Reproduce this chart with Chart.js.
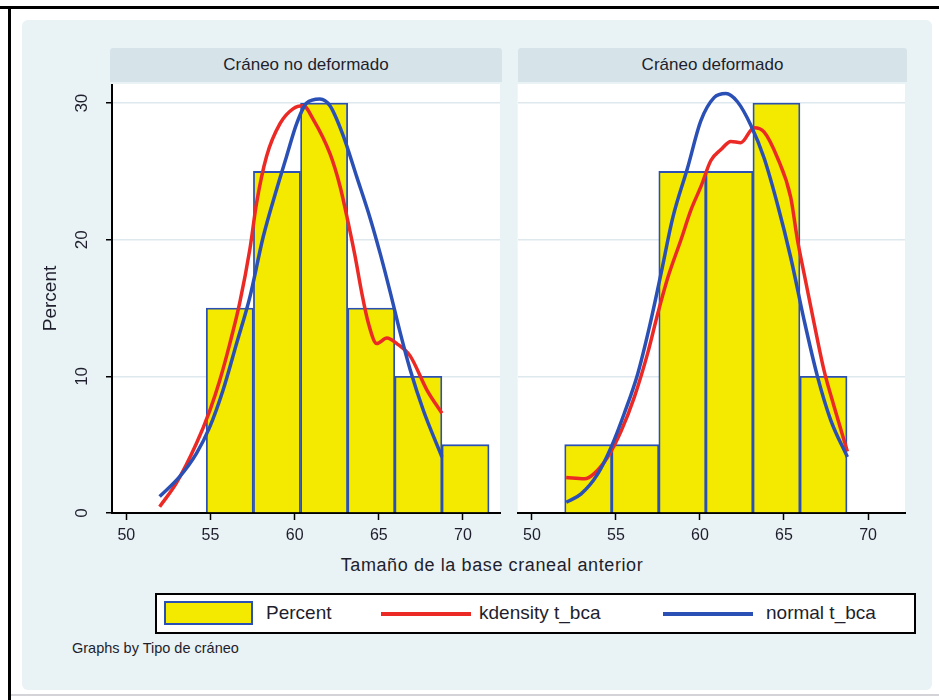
<!DOCTYPE html>
<html>
<head>
<meta charset="utf-8">
<script src="https://cdn.jsdelivr.net/npm/chart.js@4.4.0/dist/chart.umd.min.js"></script>
<style>
  body { margin: 0; background: #fff; font-family: "Liberation Sans", Arial, sans-serif; color: #1e1e2c; }
  #page { position: relative; width: 939px; height: 700px; overflow: hidden; }
  .abs { position: absolute; }
  #frameTop { left: 0; top: 6px; width: 939px; height: 3px; background: #000; }
  #frameLeft { left: 8px; top: 6px; width: 3px; height: 694px; background: #000; }
  #frameBottom { left: 11px; top: 694px; width: 928px; height: 2px; background: #d4d4d8; }
  #bg { left: 22px; top: 20px; width: 910px; height: 670px; background: #e9f2f5; border-radius: 6px; }
  .strip { top: 48px; height: 34px; background: #d6e4ea; border-radius: 3px 3px 0 0;
           font-size: 17px; line-height: 34px; text-align: center; }
  canvas { position: absolute; }
  #xTitle { left: 200px; width: 584px; top: 555px; text-align: center; font-size: 18px; letter-spacing: 0.6px; }
  #legend { left: 155px; top: 593px; width: 757px; height: 37px; background: #fff; border: 2px solid #000; }
  .sw { position: absolute; }
  .lt { position: absolute; top: 7px; font-size: 19px; }
  #note { left: 72px; top: 640px; font-size: 14.5px; }
</style>
</head>
<body>
<div id="page">
  <div id="bg" class="abs"></div>
  <div id="frameTop" class="abs"></div>
  <div id="frameLeft" class="abs"></div>
  <div id="frameBottom" class="abs"></div>

  <div class="abs strip" style="left:110px;width:392px;">Cráneo no deformado</div>
  <div class="abs strip" style="left:518px;width:389px;">Cráneo deformado</div>

  <canvas id="panel1" width="467" height="470" style="left:35px;top:84px;"></canvas>
  <canvas id="panel2" width="390" height="470" style="left:517px;top:84px;"></canvas>

  <div id="xTitle" class="abs">Tamaño de la base craneal anterior</div>

  <div id="legend" class="abs">
    <div class="sw" style="left:7px;top:6px;width:85px;height:20px;background:#f3ea00;border:2px solid #2a50b6;"></div>
    <div class="lt" style="left:109px;">Percent</div>
    <div class="sw" style="left:224px;top:17px;width:90px;height:4px;background:#ec2a25;"></div>
    <div class="lt" style="left:322px;">kdensity t_bca</div>
    <div class="sw" style="left:506px;top:17px;width:90px;height:4px;background:#2a50b6;"></div>
    <div class="lt" style="left:609px;">normal t_bca</div>
  </div>

  <div id="note" class="abs">Graphs by Tipo de cráneo</div>
</div>

<script>
// ======================= DATA =======================

// axis ticks
const xTicks = [50, 55, 60, 65, 70];
const yTicks = [0, 10, 20, 30];

// histogram bins (mid points, width 2.8) and percent per bin
const binMids1 = [56.15, 58.95, 61.75, 64.55, 67.35, 70.15];
const percent1 = [15, 25, 30, 15, 10, 5];
const binMids2 = [53.35, 56.15, 58.95, 61.75, 64.55, 67.35];
const percent2 = [5, 5, 25, 25, 30, 10];

// kdensity curve, panel 1
const kdX1 = [51.98, 52.98, 54.17, 54.96, 55.55, 56.15, 56.74, 57.34, 57.74, 58.33, 59.13, 59.92,
              60.51, 61.11, 62.1, 62.7, 63.19, 63.59, 63.99, 64.38, 64.88, 65.48, 66.07, 66.86,
              67.86, 68.75];
const kdY1 = [0.46, 2.2, 5.1, 7.5, 9.7, 12.4, 15.4, 19.3, 22.7, 26.1, 28.5, 29.6,
              29.8, 28.8, 26.3, 23.9, 21.2, 18.8, 16.1, 13.9, 12.4, 12.8, 12.4, 11.5,
              9.0, 7.3];

// normal curve, panel 1
const nmX1 = [51.98, 53.17, 54.17, 54.96, 55.75, 56.55, 57.34, 58.13, 58.93, 59.52, 60.12, 60.71,
              61.5, 62.1, 62.89, 63.69, 64.48, 65.08, 65.67, 66.27, 66.86, 67.65, 68.75];
const nmY1 = [1.2, 2.66, 4.37, 6.3, 9.0, 12.4, 15.8, 20.2, 23.7, 26.1, 28.5, 30.0,
              30.3, 29.8, 27.6, 24.6, 21.6, 19.0, 16.2, 13.2, 10.5, 7.5, 4.1];

// kdensity curve, panel 2
const kdX2 = [52.04, 53.13, 53.72, 54.51, 55.31, 56.1, 56.89, 57.49, 58.08, 58.87, 59.47, 60.06,
              60.65, 61.25, 61.84, 62.43, 63.22, 63.81, 64.61, 65.4, 65.8, 66.2, 66.79, 67.39,
              67.98, 68.77];
const kdY2 = [2.6, 2.5, 2.9, 4.1, 6.0, 8.5, 11.7, 14.6, 17.2, 20.0, 22.2, 23.9,
              25.8, 26.6, 27.2, 27.1, 28.2, 27.9, 26.0, 23.1, 20.0, 17.5, 13.9, 10.4,
              7.8, 4.5];

// normal curve, panel 2
const nmX2 = [52.04, 52.93, 53.92, 54.71, 55.5, 56.3, 56.99, 57.68, 58.38, 59.26, 60.05, 60.84,
              61.54, 62.23, 63.02, 63.81, 64.61, 65.4, 66.2, 66.99, 67.78, 68.77];
const nmY2 = [0.78, 1.4, 2.86, 4.8, 7.3, 10.2, 13.6, 17.5, 21.6, 25.25, 28.7, 30.4,
              30.7, 30.1, 28.4, 26.0, 22.6, 18.7, 14.1, 10.0, 6.8, 4.1];

// ======================= HELPERS =======================

const toPoints = (xs, ys) => xs.map((x, i) => ({ x: x, y: ys[i] }));

// white plot region + rotated y tick labels (Stata style)
const panelPlugin = {
    id: 'panelPlugin',
    beforeDraw(chart) {
        const a = chart.chartArea;
        const ctx = chart.ctx;
        ctx.save();
        ctx.fillStyle = '#ffffff';
        ctx.fillRect(a.left, a.top, a.right - a.left, a.bottom - a.top);
        ctx.restore();
    },
    afterDraw(chart, args, opts) {
        if (!opts.yLabels) return;
        const ctx = chart.ctx;
        const y = chart.scales.y;
        ctx.save();
        ctx.fillStyle = '#1e1e2c';
        ctx.font = '17px "Liberation Sans", Arial, sans-serif';
        ctx.textAlign = 'center';
        ctx.textBaseline = 'middle';
        yTicks.forEach(v => {
            ctx.save();
            ctx.translate(chart.chartArea.left - 30, y.getPixelForValue(v));
            ctx.rotate(-Math.PI / 2);
            ctx.fillText(String(v), 0, 0);
            ctx.restore();
        });
        ctx.restore();
    }
};

function makePanel(id, mids, pct, kdX, kdY, nmX, nmY, first) {
    const ctx = document.getElementById(id).getContext('2d');
    return new Chart(ctx, {
        type: 'bar',
        data: {
            datasets: [
                {
                    type: 'line',
                    label: 'normal t_bca',
                    data: toPoints(nmX, nmY),
                    borderColor: '#2a50b6',
                    borderWidth: 3.5,
                    pointRadius: 0,
                    cubicInterpolationMode: 'monotone',
                    order: 1
                },
                {
                    type: 'line',
                    label: 'kdensity t_bca',
                    data: toPoints(kdX, kdY),
                    borderColor: '#ec2a25',
                    borderWidth: 3.5,
                    pointRadius: 0,
                    cubicInterpolationMode: 'monotone',
                    order: 2
                },
                {
                    label: 'Percent',
                    data: toPoints(mids, pct),
                    backgroundColor: '#f3ea00',
                    borderColor: '#2a50b6',
                    borderWidth: 1.8,
                    barPercentage: 1,
                    categoryPercentage: 1,
                    order: 3
                }
            ]
        },
        options: {
            responsive: false,
            animation: false,
            devicePixelRatio: 1,
            layout: { padding: { top: 0, right: 2, bottom: 0, left: 0 } },
            plugins: {
                legend: { display: false },
                tooltip: { enabled: false },
                panelPlugin: { yLabels: first }
            },
            scales: {
                x: {
                    type: 'linear',
                    offset: false,
                    min: 49.15,
                    max: 72.2,
                    afterBuildTicks: s => { s.ticks = xTicks.map(v => ({ value: v })); },
                    afterFit: s => { s.height = 41; },
                    grid: { offset: false, drawOnChartArea: false, drawTicks: true, tickLength: 7, tickColor: '#000', tickWidth: 1.5 },
                    border: { color: '#000', width: 2 },
                    ticks: { color: '#1e1e2c', font: { size: 16 }, padding: 6, maxRotation: 0 }
                },
                y: {
                    min: 0,
                    max: 31.4,
                    afterBuildTicks: s => { s.ticks = yTicks.map(v => ({ value: v })); },
                    afterFit: s => { s.width = first ? 77 : 0; },
                    grid: { color: '#dde9ee', lineWidth: 1.5, drawTicks: first, tickLength: 6, tickColor: '#000', tickWidth: 1.5 },
                    border: { display: first, color: '#000', width: 2 },
                    ticks: { display: false },
                    title: {
                        display: first,
                        text: 'Percent',
                        color: '#1e1e2c',
                        font: { size: 19 },
                        padding: 4
                    }
                }
            }
        },
        plugins: [panelPlugin]
    });
}

// ======================= CHARTS =======================

makePanel('panel1', binMids1, percent1, kdX1, kdY1, nmX1, nmY1, true);
makePanel('panel2', binMids2, percent2, kdX2, kdY2, nmX2, nmY2, false);
</script>
</body>
</html>
